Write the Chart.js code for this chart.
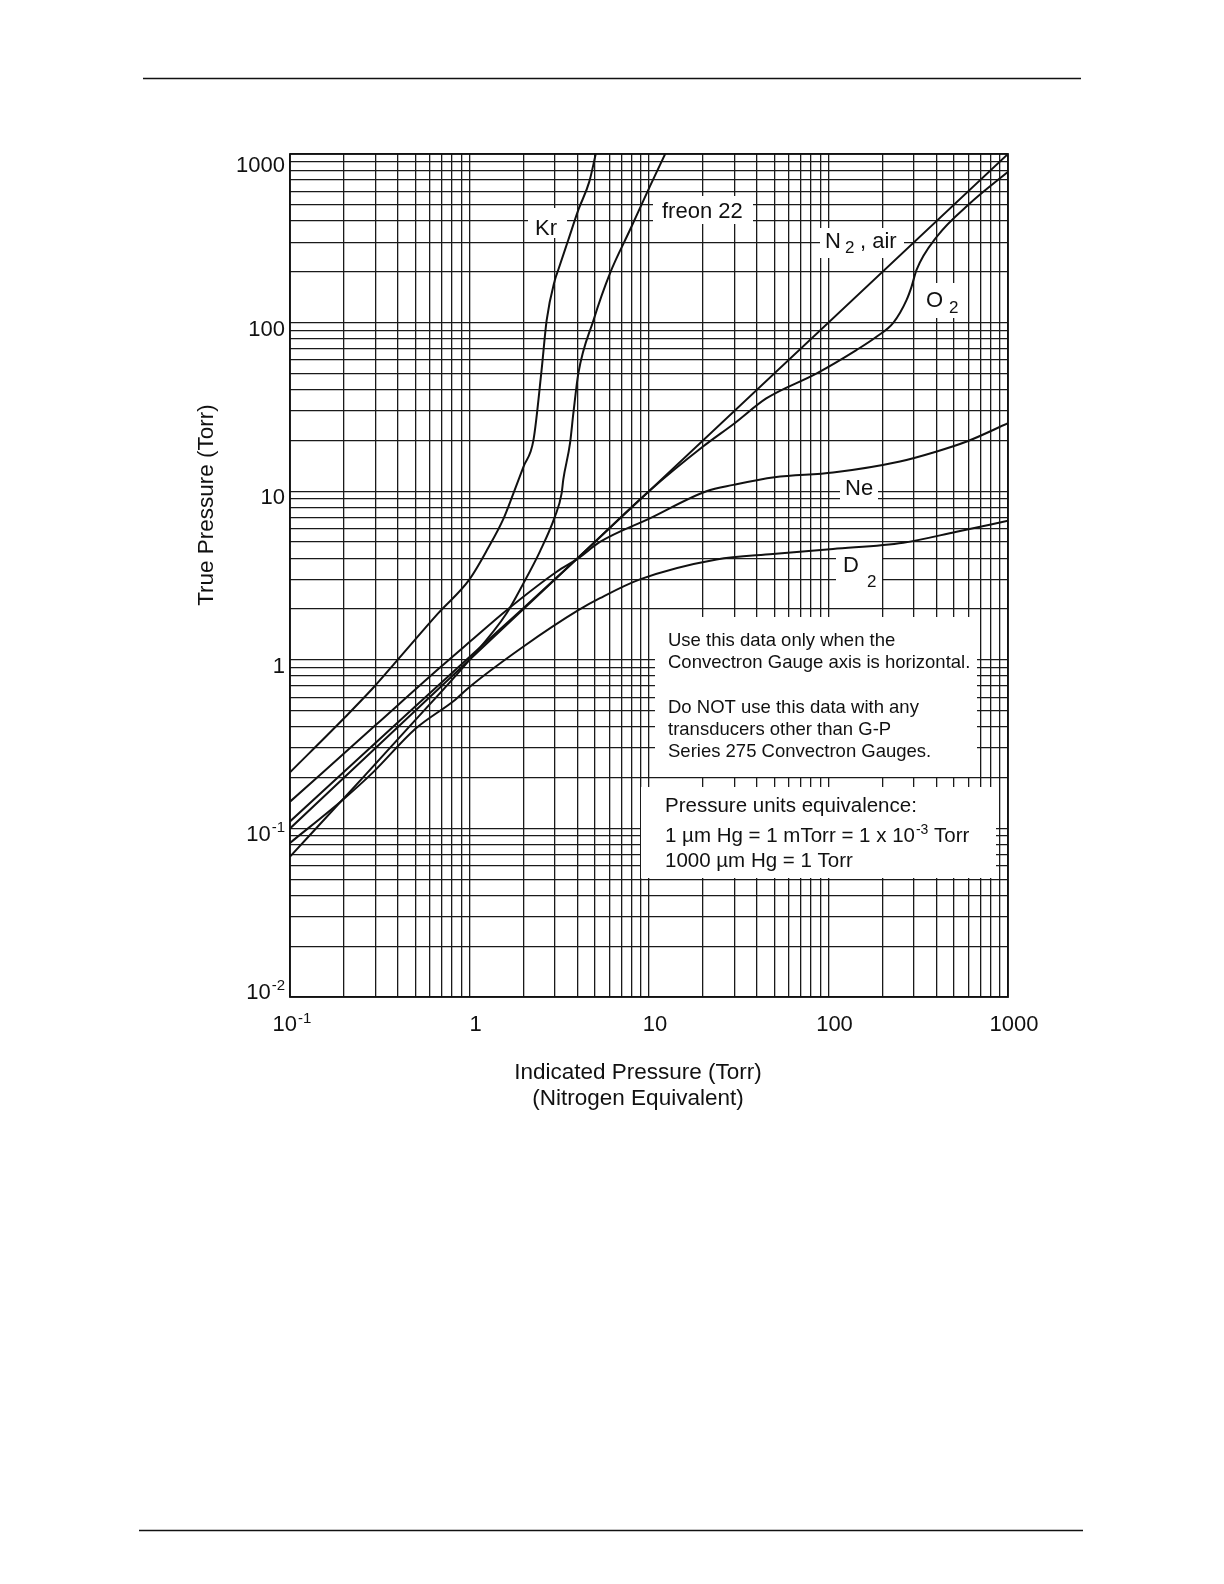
<!DOCTYPE html>
<html>
<head>
<meta charset="utf-8">
<script src="https://cdn.jsdelivr.net/npm/chart.js@4.4.1/dist/chart.umd.min.js"></script>
<style>
  html, body { margin: 0; padding: 0; background: #fff; }
  canvas { display: block; }
</style>
</head>
<body>
<canvas id="gauge-chart" width="1224" height="1584"></canvas>
<script>
// tick labels (base + superscript exponent)
const xTickValues = [0.1, 1, 10, 100, 1000];
const xTickBase = ['10', '1', '10', '100', '1000'];
const xTickExp = ['-1', '', '', '', ''];
const yTickValues = [0.01, 0.1, 1, 10, 100, 1000];
const yTickBase = ['10', '10', '1', '10', '100', '1000'];
const yTickExp = ['-2', '-1', '', '', '', ''];

// curves: indicated pressure (N2 equivalent) -> true pressure, Torr
const krX = [0.1, 0.2, 0.29, 0.39, 0.67, 1.0, 1.27, 1.54, 1.75, 2.0, 2.27, 2.52, 2.69, 2.99, 3.12, 3.55, 4.04, 4.65, 5.05];
const krY = [0.215, 0.45, 0.68, 0.975, 1.89, 3.0, 4.6, 6.8, 9.6, 14, 20, 52, 103, 179, 205, 309, 466, 686, 1000];

const freonX = [0.1, 0.26, 0.5, 1.0, 1.61, 2.0, 2.47, 2.99, 3.26, 3.33, 3.63, 3.79, 4.04, 4.9, 6.06, 7.83, 10.1, 12.3];
const freonY = [0.068, 0.205, 0.44, 1.0, 1.89, 2.85, 4.4, 7.06, 9.7, 11.7, 19.2, 29, 50, 103, 196, 354, 640, 1000];

const n2X = [0.1, 1000];
const n2Y = [0.1, 1000];

const o2X = [0.1, 0.5, 1, 2, 4, 10, 20, 30, 45, 86, 143, 185, 230, 272, 290, 309, 401, 614, 1000];
const o2Y = [0.11, 0.53, 1.04, 2.03, 4.0, 10, 18.4, 25.3, 35.5, 50, 68.7, 82.4, 100, 136, 163, 205, 323, 510, 785];

const neX = [0.1, 0.3, 0.685, 1.03, 1.61, 3.06, 4.04, 5.33, 10.1, 20.9, 29.5, 50, 106, 250, 401, 589, 1000];
const neY = [0.144, 0.41, 0.9, 1.31, 1.97, 3.33, 4.0, 5.0, 6.9, 10, 10.9, 12.1, 12.9, 15, 17.2, 19.7, 25.3];

const d2X = [0.1, 0.2, 0.29, 0.5, 0.83, 1.0, 2.0, 4.04, 5.33, 8.9, 23.8, 49, 106, 261, 517, 1000];
const d2Y = [0.082, 0.15, 0.215, 0.39, 0.578, 0.69, 1.2, 1.97, 2.32, 3.0, 3.94, 4.24, 4.54, 4.95, 5.75, 6.68];

const FONT = '"Liberation Sans", Arial, Helvetica, sans-serif';
const INK = '#111';

function toPoints(xs, ys) {
    return xs.map((v, i) => ({ x: v, y: ys[i] }));
}

// 1..9 per decade, like the printed log paper
function logGridTicks(scale) {
    const ticks = [];
    const e0 = Math.round(Math.log10(scale.min));
    const e1 = Math.round(Math.log10(scale.max));
    for (let e = e0; e <= e1; e++) {
        for (let m = 1; m <= 9; m++) {
            const v = Number((m * Math.pow(10, e)).toPrecision(3));
            if (v >= scale.min && v <= scale.max) ticks.push({ value: v, major: m === 1 });
        }
    }
    scale.ticks = ticks;
}

// curve labels sitting in white patches over the grid
const curveLabels = [
    { box: [528, 208, 567, 238], parts: [['Kr', 535, 235, 22]] },
    { box: [653, 196, 753, 224], parts: [['freon 22', 662, 218, 22]] },
    { box: [820, 228, 904, 258], parts: [['N', 825, 248, 22], ['2', 845, 253, 17], [', air', 860, 248, 22]] },
    { box: [918, 283, 962, 318], parts: [['O', 926, 307, 22], ['2', 949, 313, 17]] },
    { box: [840, 477, 878, 500], parts: [['Ne', 845, 495, 22]] },
    { box: [836, 552, 882, 590], parts: [['D', 843, 572, 22], ['2', 867, 587, 17]] }
];

const noteBoxes = [
    {
        box: [655, 617, 977, 777],
        lines: [
            ['Use this data only when the', 668, 646, 18.5],
            ['Convectron Gauge axis is horizontal.', 668, 668, 18.5],
            ['Do NOT use this data with any', 668, 713, 18.5],
            ['transducers other than G-P', 668, 735, 18.5],
            ['Series 275 Convectron Gauges.', 668, 757, 18.5]
        ]
    },
    {
        box: [641, 787, 996, 878],
        lines: [
            ['Pressure units equivalence:', 665, 812, 20.5],
            ['1000 \u00b5m Hg = 1 Torr', 665, 867, 20.5]
        ]
    }
];

const annotationPlugin = {
    id: 'annotations',
    beforeDatasetsDraw(chart) {
        const ctx = chart.ctx;
        ctx.save();
        ctx.fillStyle = '#fff';
        curveLabels.concat(noteBoxes).forEach(l => {
            const [x0, y0, x1, y1] = l.box;
            ctx.fillRect(x0, y0, x1 - x0, y1 - y0);
        });
        ctx.fillStyle = INK;
        ctx.textBaseline = 'alphabetic';
        ctx.textAlign = 'left';
        curveLabels.forEach(l => {
            l.parts.forEach(([t, x, y, size]) => {
                ctx.font = size + 'px ' + FONT;
                ctx.fillText(t, x, y);
            });
        });
        noteBoxes.forEach(n => {
            n.lines.forEach(([t, x, y, size]) => {
                ctx.font = size + 'px ' + FONT;
                ctx.fillText(t, x, y);
            });
        });
        // line with the superscript exponent
        let cx = 665;
        ctx.font = '20.5px ' + FONT;
        const head = '1 \u00b5m Hg = 1 mTorr = 1 x 10';
        ctx.fillText(head, cx, 842);
        cx += ctx.measureText(head).width + 1;
        ctx.font = '14px ' + FONT;
        ctx.fillText('-3', cx, 834);
        cx += ctx.measureText('-3').width;
        ctx.font = '20.5px ' + FONT;
        ctx.fillText(' Torr', cx, 842);
        ctx.restore();
    },
    afterDraw(chart) {
        const { ctx, chartArea: a, scales } = chart;
        ctx.save();
        // frame
        ctx.strokeStyle = INK;
        ctx.lineWidth = 1.8;
        ctx.strokeRect(a.left, a.top, a.right - a.left, a.bottom - a.top);

        ctx.fillStyle = INK;
        ctx.textBaseline = 'alphabetic';
        ctx.textAlign = 'left';

        // x tick labels
        xTickValues.forEach((v, i) => {
            const base = xTickBase[i], exp = xTickExp[i];
            ctx.font = '22px ' + FONT;
            const bw = ctx.measureText(base).width;
            ctx.font = '15px ' + FONT;
            const ew = exp ? ctx.measureText(exp).width + 1 : 0;
            const cx = scales.x.getPixelForValue(v) + (exp ? 2 : 6);
            const left = cx - (bw + ew) / 2;
            ctx.font = '22px ' + FONT;
            ctx.fillText(base, left, 1031);
            if (exp) {
                ctx.font = '15px ' + FONT;
                ctx.fillText(exp, left + bw + 1, 1023);
            }
        });

        // y tick labels, kept inside the frame height
        yTickValues.forEach((v, i) => {
            const base = yTickBase[i], exp = yTickExp[i];
            let mid = scales.y.getPixelForValue(v) + 5;
            mid = Math.min(Math.max(mid, a.top + 10), a.bottom - 6);
            const baseLine = mid + 8;
            ctx.font = '15px ' + FONT;
            const ew = exp ? ctx.measureText(exp).width + 1 : 0;
            ctx.font = '22px ' + FONT;
            const bw = ctx.measureText(base).width;
            const right = 285;
            ctx.fillText(base, right - ew - bw, baseLine);
            if (exp) {
                ctx.font = '15px ' + FONT;
                ctx.fillText(exp, right - ew + 1, baseLine - 9);
            }
        });

        // axis titles
        ctx.font = '22.5px ' + FONT;
        ctx.textAlign = 'center';
        ctx.fillText('Indicated Pressure (Torr)', 638, 1079);
        ctx.fillText('(Nitrogen Equivalent)', 638, 1105);
        ctx.save();
        ctx.translate(213, 505);
        ctx.rotate(-Math.PI / 2);
        ctx.fillText('True Pressure (Torr)', 0, 0);
        ctx.restore();

        // page rules
        ctx.lineWidth = 1.5;
        ctx.beginPath();
        ctx.moveTo(143, 78.5);
        ctx.lineTo(1081, 78.5);
        ctx.moveTo(139, 1530.5);
        ctx.lineTo(1083, 1530.5);
        ctx.stroke();
        ctx.restore();
    }
};

const whiteBg = {
    id: 'whiteBg',
    beforeDraw(chart) {
        const ctx = chart.ctx;
        ctx.save();
        ctx.fillStyle = '#fff';
        ctx.fillRect(0, 0, chart.width, chart.height);
        ctx.restore();
    }
};

function curve(label, xs, ys) {
    return {
        label: label,
        data: toPoints(xs, ys),
        showLine: true,
        borderColor: INK,
        borderWidth: 2,
        pointRadius: 0,
        cubicInterpolationMode: 'monotone',
        fill: false
    };
}

const gridOpts = {
    color: '#1a1a1a',
    lineWidth: 1.3,
    drawTicks: false
};

new Chart(document.getElementById('gauge-chart').getContext('2d'), {
    type: 'scatter',
    data: {
        datasets: [
            curve('Kr', krX, krY),
            curve('freon 22', freonX, freonY),
            curve('N2, air', n2X, n2Y),
            curve('O2', o2X, o2Y),
            curve('Ne', neX, neY),
            curve('D2', d2X, d2Y)
        ]
    },
    options: {
        responsive: false,
        animation: false,
        devicePixelRatio: 1,
        layout: { padding: { left: 290, top: 154, right: 216, bottom: 587 } },
        plugins: {
            legend: { display: false },
            tooltip: { enabled: false }
        },
        scales: {
            x: {
                type: 'logarithmic',
                min: 0.1,
                max: 1000,
                grid: gridOpts,
                border: { display: false },
                ticks: { display: false },
                afterBuildTicks: logGridTicks,
                afterFit: s => { s.height = 0; }
            },
            y: {
                type: 'logarithmic',
                min: 0.01,
                max: 1000,
                grid: gridOpts,
                border: { display: false },
                ticks: { display: false },
                afterBuildTicks: logGridTicks,
                afterFit: s => { s.width = 0; }
            }
        }
    },
    plugins: [whiteBg, annotationPlugin]
});
</script>
</body>
</html>
